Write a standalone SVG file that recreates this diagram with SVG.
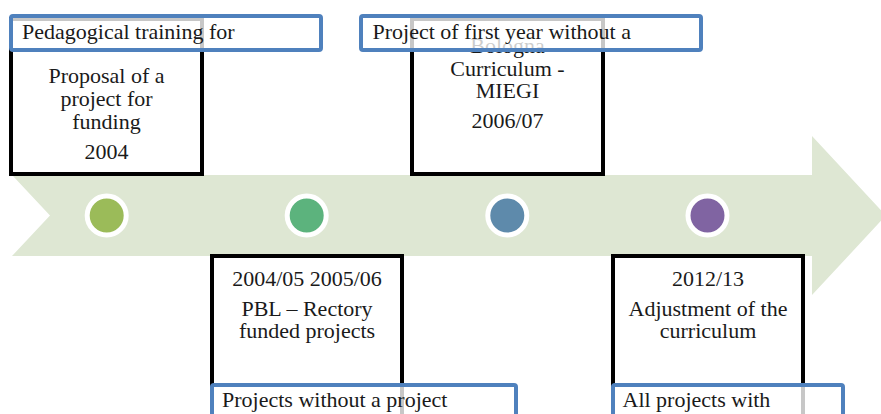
<svg xmlns="http://www.w3.org/2000/svg" width="881" height="414" viewBox="0 0 881 414">
  <style>
    .card { fill: #ffffff; stroke: #000000; stroke-width: 4; }
    .label { fill: #ffffff; fill-opacity: 0.78; stroke: #4f81bd; stroke-width: 4; }
    .txt { font-family: "Liberation Serif", "DejaVu Serif", serif; font-size: 22px; fill: #1a1a1a; }
    .mid { text-anchor: middle; }
    .ring { stroke: #ffffff; stroke-width: 5; }
  </style>
  <rect width="881" height="414" fill="#ffffff"/>

  <!-- timeline arrow and markers -->
  <g id="connectors">
    <polygon points="12,175 812,175 812,136 886,215.5 812,295 812,256 12,256 50,215.5" fill="#dee7d3"/>
    <circle class="ring" cx="106.7" cy="215.5" r="19.5" fill="#9bbb59"/>
    <circle class="ring" cx="306.7" cy="215.5" r="19.5" fill="#5cb37d"/>
    <circle class="ring" cx="507.3" cy="215.5" r="19.5" fill="#5e8aab"/>
    <circle class="ring" cx="707.5" cy="215.5" r="19.5" fill="#8064a2"/>
  </g>

  <!-- 2004 -->
  <g id="node-2004">
    <rect class="card" x="11" y="19" width="191" height="155"/>
    <text class="txt mid" x="106.5" y="83">Proposal of a</text>
    <text class="txt mid" x="106.5" y="106">project for</text>
    <text class="txt mid" x="106.5" y="129">funding</text>
    <text class="txt mid" x="106.5" y="159">2004</text>
    <rect class="label" x="11" y="16" width="310" height="34" rx="2"/>
    <text class="txt" x="22" y="39">Pedagogical training for</text>
  </g>

  <!-- 2006/07 -->
  <g id="node-2006">
    <rect class="card" x="412" y="19" width="191" height="155"/>
    <text class="txt mid" x="507.5" y="53">Bologna</text>
    <text class="txt mid" x="507.5" y="76">Curriculum -</text>
    <text class="txt mid" x="507.5" y="98">MIEGI</text>
    <text class="txt mid" x="507.5" y="128">2006/07</text>
    <rect class="label" x="361" y="16" width="340" height="34" rx="2"/>
    <text class="txt" x="372.5" y="38.5">Project of first year without a</text>
  </g>

  <!-- 2004/05 2005/06 -->
  <g id="node-2005">
    <rect class="card" x="212" y="256" width="190" height="175"/>
    <text class="txt mid" x="307" y="285.5">2004/05 2005/06</text>
    <text class="txt mid" x="307" y="316">PBL – Rectory</text>
    <text class="txt mid" x="307" y="338">funded projects</text>
    <rect class="label" x="212" y="385" width="304" height="40" rx="2"/>
    <text class="txt" x="222" y="407">Projects without a project</text>
  </g>

  <!-- 2012/13 -->
  <g id="node-2012">
    <rect class="card" x="613" y="256" width="190" height="175"/>
    <text class="txt mid" x="708" y="285.5">2012/13</text>
    <text class="txt mid" x="708" y="316">Adjustment of the</text>
    <text class="txt mid" x="708" y="338">curriculum</text>
    <rect class="label" x="613" y="385" width="230" height="40" rx="2"/>
    <text class="txt" x="622.5" y="407">All projects with</text>
  </g>
</svg>
